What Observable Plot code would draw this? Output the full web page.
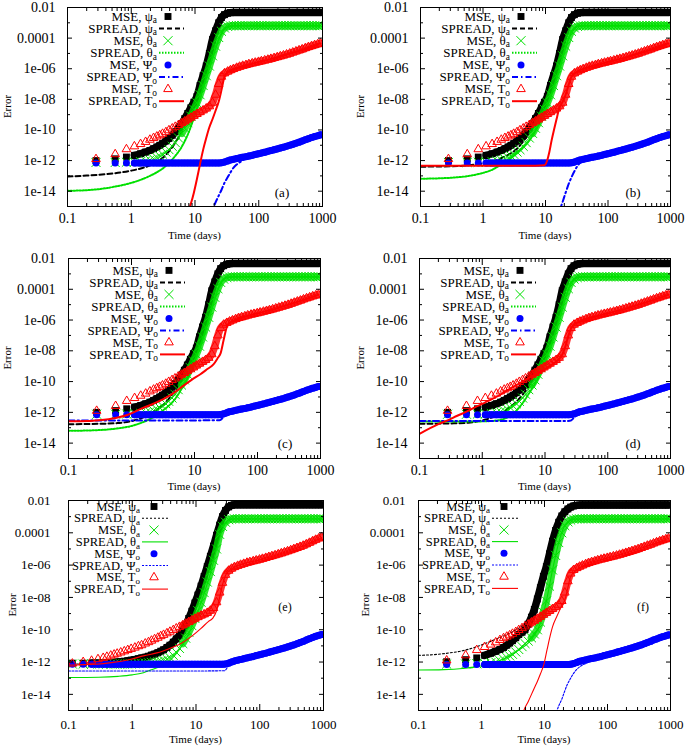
<!DOCTYPE html>
<html>
<head>
<meta charset="utf-8">
<script src="https://cdn.jsdelivr.net/npm/d3@7"></script>
<script src="https://cdn.jsdelivr.net/npm/@observablehq/plot@0.6"></script>
<style>
  html, body { margin: 0; padding: 0; background: #fff; }
  #wrap { position: relative; width: 685px; height: 746px; overflow: hidden; background: #fff; }
  #wrap svg { position: absolute; }
</style>
</head>
<body>
<div id="wrap"></div>
<script>
// ---------- axis ticks and labels ----------
const xTicks = [0.1, 1, 10, 100, 1000];
const xTickLabels = ["0.1", "1", "10", "100", "1000"];
const xMinorTicks = [0.2,0.3,0.4,0.5,0.6,0.7,0.8,0.9,2,3,4,5,6,7,8,9,20,30,40,50,60,70,80,90,200,300,400,500,600,700,800,900];
const yTicks = [1e-2, 1e-4, 1e-6, 1e-8, 1e-10, 1e-12, 1e-14];
const yTickLabels = ["0.01", "0.0001", "1e-06", "1e-08", "1e-10", "1e-12", "1e-14"];
const yMinorTicks = [1e-3, 1e-5, 1e-7, 1e-9, 1e-11, 1e-13];
const legendMain = ["MSE, \u03c8", "SPREAD, \u03c8", "MSE, \u03b8", "SPREAD, \u03b8", "MSE, \u03a8", "SPREAD, \u03a8", "MSE, T", "SPREAD, T"];
const legendSub = ["a", "a", "a", "a", "o", "o", "o", "o"];
const panelLabels = ["(a)", "(b)", "(c)", "(d)", "(e)", "(f)"];

// ---------- MSE time grids ----------
const tMSE = [0.28,0.56,0.84,1.12,1.4,1.68,1.96,2.24,2.52,2.8,
  3.1,3.5,3.9,4.4,4.9,5.5,6.2,6.9,7.7,8.6,
  9.6,10.7,12,13.4,15,16.8,18.8,21,23.5,26,
  29,32.5,36,40,45,50,56,63,70,79,
  88,99,110,124,139,155,174,195,218,244,
  273,306,342,383,429,480,537,601,673,753,
  843,930];
const tE = [0.115,0.17,0.23,0.29,0.35,0.4,0.46,0.52,0.58,0.66,0.75,0.85,0.96,
  1.1,1.25,1.4,1.6,1.8,2.0,2.24,2.52,2.8,
  3.1,3.5,3.9,4.4,4.9,5.5,6.2,6.9,7.7,8.6,
  9.6,10.7,12,13.4,15,16.8,18.8,21,23.5,26,
  29,32.5,36,40,45,50,56,63,70,79,
  88,99,110,124,139,155,174,195,218,244,
  273,306,342,383,429,480,537,601,673,753,
  843,930];

// ---------- MSE values, panels (a)-(d) ----------
const msePsiA = [1.0e-12,1.3e-12,1.7e-12,2.2e-12,2.8e-12,3.6e-12,4.6e-12,6e-12,7.8e-12,1.0e-11,
  1.3e-11,1.9e-11,2.8e-11,4.5e-11,7.5e-11,1.3e-10,2.6e-10,5.5e-10,1.2e-9,2.8e-9,
  6.5e-9,1.5e-8,8e-8,3.5e-7,1.5e-6,1e-5,8e-5,3e-4,1e-3,2.2e-3,
  3.4e-3,4.2e-3,4.6e-3,4.8e-3,4.8e-3,4.8e-3,4.8e-3,4.8e-3,4.8e-3,4.8e-3,
  4.8e-3,4.8e-3,4.8e-3,4.8e-3,4.8e-3,4.8e-3,4.8e-3,4.8e-3,4.8e-3,4.8e-3,
  4.8e-3,4.8e-3,4.8e-3,4.8e-3,4.8e-3,4.8e-3,4.8e-3,4.8e-3,4.8e-3,4.8e-3,
  4.8e-3,4.8e-3];
const mseThetaA = [7.5e-13,7.5e-13,7.8e-13,8e-13,8.5e-13,9.5e-13,1.1e-12,1.3e-12,1.6e-12,2e-12,
  2.6e-12,3.6e-12,5.2e-12,8.5e-12,1.5e-11,3e-11,6e-11,1.3e-10,3e-10,8e-10,
  2.2e-9,6e-9,2e-8,8e-8,3.5e-7,1.5e-6,7e-6,3e-5,1.1e-4,2.8e-4,
  4.6e-4,5.8e-4,6.3e-4,6.5e-4,6.5e-4,6.5e-4,6.5e-4,6.5e-4,6.5e-4,6.5e-4,
  6.5e-4,6.5e-4,6.5e-4,6.5e-4,6.5e-4,6.5e-4,6.5e-4,6.5e-4,6.5e-4,6.5e-4,
  6.5e-4,6.5e-4,6.5e-4,6.5e-4,6.5e-4,6.5e-4,6.5e-4,6.5e-4,6.5e-4,6.5e-4,
  6.5e-4,6.5e-4];
const msePsiO = [7e-13,7e-13,7e-13,7e-13,7e-13,7e-13,7e-13,7e-13,7e-13,7e-13,
  7e-13,7e-13,7e-13,7e-13,7e-13,7e-13,7e-13,7e-13,7e-13,7e-13,
  7e-13,7e-13,7e-13,7e-13,7e-13,7e-13,7e-13,7e-13,7e-13,7.3e-13,
  8e-13,9.5e-13,1.1e-12,1.2e-12,1.35e-12,1.5e-12,1.65e-12,1.8e-12,2e-12,2.2e-12,
  2.5e-12,2.8e-12,3.1e-12,3.5e-12,4e-12,4.5e-12,5.1e-12,5.8e-12,6.6e-12,7.5e-12,
  8.6e-12,1e-11,1.15e-11,1.35e-11,1.6e-11,1.9e-11,2.3e-11,2.7e-11,3.2e-11,3.7e-11,
  4.2e-11,4.8e-11];
const mseTO = [1.25e-12,2.6e-12,5.5e-12,8.5e-12,1.2e-11,1.65e-11,2.3e-11,3e-11,3.7e-11,4.5e-11,
  5.6e-11,7.2e-11,9.5e-11,1.25e-10,1.6e-10,2.1e-10,2.8e-10,3.6e-10,4.8e-10,6.3e-10,
  8.3e-10,1.1e-9,1.45e-9,1.9e-9,2.5e-9,3.5e-9,6e-9,2e-8,1e-7,3e-7,
  5e-7,6.5e-7,8e-7,9.5e-7,1.15e-6,1.35e-6,1.55e-6,1.75e-6,2e-6,2.25e-6,
  2.5e-6,2.8e-6,3.1e-6,3.5e-6,3.9e-6,4.4e-6,5e-6,5.7e-6,6.5e-6,7.4e-6,
  8.5e-6,9.8e-6,1.15e-5,1.35e-5,1.6e-5,1.85e-5,2.2e-5,2.6e-5,3e-5,3.5e-5,
  4e-5,4.5e-5];

// ---------- MSE values, panel (e) ----------
const mseEPsiA = [8.5e-13,8.5e-13,8.6e-13,8.7e-13,8.8e-13,9e-13,9.2e-13,9.5e-13,1e-12,1.05e-12,1.1e-12,1.2e-12,1.3e-12,
  1.45e-12,1.6e-12,1.8e-12,2e-12,2.3e-12,2.7e-12,3.1e-12,3.8e-12,4.7e-12,
  5.8e-12,8e-12,1.1e-11,1.7e-11,2.7e-11,4.5e-11,9e-11,2e-10,5e-10,1.4e-9,
  4.5e-9,1.4e-8,5e-8,2e-7,8e-7,3.5e-6,1.5e-5,7e-5,3e-4,1e-3,
  2.4e-3,4e-3,5e-3,5.4e-3,5.4e-3,5.4e-3,5.4e-3,5.4e-3,5.4e-3,5.4e-3,
  5.4e-3,5.4e-3,5.4e-3,5.4e-3,5.4e-3,5.4e-3,5.4e-3,5.4e-3,5.4e-3,5.4e-3,
  5.4e-3,5.4e-3,5.4e-3,5.4e-3,5.4e-3,5.4e-3,5.4e-3,5.4e-3,5.4e-3,5.4e-3,
  5.4e-3,5.4e-3];
const mseEThetaA = [7.5e-13,7.5e-13,7.5e-13,7.5e-13,7.5e-13,7.5e-13,7.5e-13,7.5e-13,7.5e-13,7.5e-13,7.5e-13,7.5e-13,7.5e-13,
  7.8e-13,8e-13,8.3e-13,8.6e-13,9e-13,9.5e-13,1e-12,1.07e-12,1.15e-12,
  1.3e-12,1.5e-12,1.9e-12,2.6e-12,4e-12,7e-12,1.4e-11,3e-11,7e-11,1.8e-10,
  5e-10,1.5e-9,5e-9,2e-8,9e-8,4e-7,2e-6,1e-5,8e-5,2.5e-4,
  4.5e-4,6.5e-4,7.2e-4,7.4e-4,7.4e-4,7.4e-4,7.4e-4,7.4e-4,7.4e-4,7.4e-4,
  7.4e-4,7.4e-4,7.4e-4,7.4e-4,7.4e-4,7.4e-4,7.4e-4,7.4e-4,7.4e-4,7.4e-4,
  7.4e-4,7.4e-4,7.4e-4,7.4e-4,7.4e-4,7.4e-4,7.4e-4,7.4e-4,7.4e-4,7.4e-4,
  7.4e-4,7.4e-4];
const mseEPsiO = [7.4e-13,7.4e-13,7.4e-13,7.4e-13,7.4e-13,7.4e-13,7.4e-13,7.4e-13,7.4e-13,7.4e-13,7.4e-13,7.4e-13,7.4e-13,
  7.4e-13,7.4e-13,7.4e-13,7.4e-13,7.4e-13,7.4e-13,7.4e-13,7.4e-13,7.4e-13,
  7.4e-13,7.4e-13,7.4e-13,7.4e-13,7.4e-13,7.4e-13,7.4e-13,7.4e-13,7.4e-13,7.4e-13,
  7.4e-13,7.4e-13,7.4e-13,7.4e-13,7.4e-13,7.4e-13,7.4e-13,7.4e-13,7.4e-13,7.4e-13,
  7.6e-13,8.5e-13,1e-12,1.15e-12,1.3e-12,1.45e-12,1.6e-12,1.8e-12,2e-12,2.2e-12,
  2.5e-12,2.8e-12,3.1e-12,3.5e-12,4e-12,4.5e-12,5.1e-12,5.8e-12,6.6e-12,7.5e-12,
  8.6e-12,1e-11,1.15e-11,1.35e-11,1.6e-11,1.9e-11,2.3e-11,2.8e-11,3.3e-11,3.9e-11,
  4.5e-11,5e-11];
const mseETO = [8e-13,1e-12,1.2e-12,1.5e-12,1.8e-12,2.1e-12,2.5e-12,2.9e-12,3.3e-12,3.9e-12,4.6e-12,5.5e-12,6.5e-12,
  7.8e-12,9.5e-12,1.1e-11,1.4e-11,1.7e-11,2.1e-11,2.6e-11,3.2e-11,4e-11,
  4.8e-11,6e-11,7.5e-11,9.5e-11,1.2e-10,1.5e-10,1.9e-10,2.4e-10,3e-10,3.8e-10,
  4.8e-10,6e-10,7.5e-10,9e-10,1.1e-9,1.5e-9,2.2e-9,5e-9,2e-8,8e-8,
  2.5e-7,4.5e-7,6e-7,7.5e-7,9e-7,1.05e-6,1.2e-6,1.4e-6,1.55e-6,1.75e-6,
  1.95e-6,2.2e-6,2.45e-6,2.8e-6,3.2e-6,3.6e-6,4.1e-6,4.7e-6,5.4e-6,6.2e-6,
  7.2e-6,8.4e-6,9.8e-6,1.15e-5,1.35e-5,1.6e-5,1.95e-5,2.4e-5,3e-5,3.7e-5,
  4.5e-5,5.3e-5];

// ---------- MSE values, panel (f) (psi_o and T_o as in (a)-(d)) ----------
const mseFPsiA = [1.05e-12,1.4e-12,1.8e-12,2.6e-12,3.5e-12,4.6e-12,6e-12,8e-12,1.1e-11,1.5e-11,
  2.1e-11,3.2e-11,5e-11,7e-11,1e-10,2.2e-10,6e-10,1.8e-9,8e-9,4e-8,
  2e-7,8e-7,5e-6,3e-5,1.4e-4,4.5e-4,1.1e-3,2e-3,3e-3,3.9e-3,
  4.6e-3,5e-3,5.2e-3,5.3e-3,5.3e-3,5.3e-3,5.3e-3,5.3e-3,5.3e-3,5.3e-3,
  5.3e-3,5.3e-3,5.3e-3,5.3e-3,5.3e-3,5.3e-3,5.3e-3,5.3e-3,5.3e-3,5.3e-3,
  5.3e-3,5.3e-3,5.3e-3,5.3e-3,5.3e-3,5.3e-3,5.3e-3,5.3e-3,5.3e-3,5.3e-3,
  5.3e-3,5.3e-3];
const mseFThetaA = [7.5e-13,7.5e-13,7.8e-13,8e-13,9e-13,1e-12,1.2e-12,1.5e-12,1.9e-12,2.4e-12,
  3e-12,4.2e-12,6e-12,9e-12,1.4e-11,2e-11,3.2e-11,5.5e-11,1e-10,3e-10,
  1.2e-9,6e-9,5e-8,5e-7,4e-6,2.5e-5,1e-4,2.8e-4,4.8e-4,6.2e-4,
  7e-4,7.3e-4,7.4e-4,7.4e-4,7.4e-4,7.4e-4,7.4e-4,7.4e-4,7.4e-4,7.4e-4,
  7.4e-4,7.4e-4,7.4e-4,7.4e-4,7.4e-4,7.4e-4,7.4e-4,7.4e-4,7.4e-4,7.4e-4,
  7.4e-4,7.4e-4,7.4e-4,7.4e-4,7.4e-4,7.4e-4,7.4e-4,7.4e-4,7.4e-4,7.4e-4,
  7.4e-4,7.4e-4];

// ---------- SPREAD curves: [time, value] ----------
const sprA_psiA = [[0.1,9e-14],[0.2,1.05e-13],[0.4,1.3e-13],[0.7,1.7e-13],[1,2.2e-13],[1.5,3.3e-13],[2,5e-13],[2.5,8.5e-13],[3.1,1.5e-12],[3.9,4e-12],[4.9,1.5e-11],[6.2,8e-11],[7.7,6e-10],[9.6,5e-9],[12,5e-8],[15,8e-7],[18.8,1.5e-5],[23.5,3.5e-4],[29,2.8e-3],[36,4.6e-3],[45,4.8e-3],[930,4.8e-3]];
const sprA_thetaA = [[0.1,1.05e-14],[0.28,1.3e-14],[0.56,2e-14],[0.93,3.2e-14],[1.4,5.5e-14],[1.86,9e-14],[2.5,1.7e-13],[3.1,3e-13],[3.9,7e-13],[4.9,2e-12],[6.2,8e-12],[7.7,5e-11],[9.6,6e-10],[12,1.2e-8],[15,2.5e-7],[18.8,5e-6],[23.5,8e-5],[29,4e-4],[36,6e-4],[45,6.4e-4],[930,6.4e-4]];
const sprA_psiO = [[17,2e-16],[19.7,1e-15],[23.5,5e-15],[26,1.2e-14],[29,3.5e-14],[32.5,8e-14],[36,1.7e-13],[40,3.3e-13],[45,5.5e-13],[52,8.5e-13],[63,1.6e-12],[99,2.7e-12],[195,5.6e-12],[383,1.3e-11],[930,4.7e-11]];
const sprA_TO = [[7.5,3e-16],[8.6,1.5e-15],[9.6,8e-15],[10.7,6e-14],[12,6e-13],[13.4,5e-12],[15,3e-11],[16.8,1.5e-10],[18.8,5e-10],[21,1.8e-9],[23.5,7e-9],[26,4e-8],[29,3e-7],[32.5,6e-7],[40,9e-7],[63,1.7e-6],[99,2.7e-6],[195,5.5e-6],[383,1.3e-5],[930,4.5e-5]];

const sprB_psiA = [[0.1,4e-13],[0.3,4.2e-13],[0.6,5e-13],[1,6.5e-13],[1.5,9e-13],[2,1.5e-12],[2.8,3e-12],[3.5,6e-12],[4.4,1.8e-11],[5.5,6e-11],[6.9,3e-10],[8.6,2e-9],[10.7,1.2e-8],[15,8e-7],[21,9e-5],[29,2.8e-3],[36,4.6e-3],[45,4.8e-3],[930,4.8e-3]];
const sprB_thetaA = [[0.1,6.5e-14],[0.3,7.5e-14],[0.6,1e-13],[0.93,1.45e-13],[1.4,2.5e-13],[1.72,4e-13],[2.2,7e-13],[2.8,1.4e-12],[3.5,3e-12],[4.4,7e-12],[5.5,2e-11],[6.9,9e-11],[8.6,5e-10],[10.7,4e-9],[13.4,5e-8],[16.8,1e-6],[21,2.5e-5],[26,2.5e-4],[32.5,5.8e-4],[40,6.4e-4],[930,6.4e-4]];
const sprB_psiO = [[16,3e-16],[17.7,1e-15],[18.8,2e-15],[21,8e-15],[23.5,3e-14],[26,8e-14],[29,2e-13],[32.5,4.5e-13],[36.8,8e-13],[40,1.1e-12],[50,1.4e-12],[99,2.7e-12],[195,5.6e-12],[383,1.3e-11],[930,4.7e-11]];
const sprB_TO = [[0.1,4.6e-13],[1,4.6e-13],[5,4.6e-13],[9.6,5e-13],[10.7,1.1e-12],[11.5,3.5e-12],[12.5,2e-11],[13.8,1.2e-10],[15,5e-10],[16.6,2.5e-9],[18.8,7e-9],[21,2e-8],[23.5,9e-8],[26,3e-7],[32.5,6.5e-7],[40,9.5e-7],[63,1.7e-6],[99,2.7e-6],[195,5.5e-6],[383,1.3e-5],[930,4.5e-5]];

const sprC_psiA = [[0.1,1.7e-13],[0.3,1.8e-13],[0.6,2e-13],[1,2.7e-13],[1.4,4e-13],[2,8e-13],[2.8,2e-12],[3.5,4.5e-12],[4.4,1.4e-11],[5.5,5e-11],[6.9,2.5e-10],[8.6,2e-9],[10.7,1.2e-8],[15,8e-7],[21,9e-5],[29,2.8e-3],[36,4.6e-3],[45,4.8e-3],[930,4.8e-3]];
const sprC_thetaA = [[0.1,6.3e-14],[0.3,7e-14],[0.59,9e-14],[1,1.3e-13],[1.39,2e-13],[2,3.8e-13],[2.55,7e-13],[3.2,1.4e-12],[4.1,3.2e-12],[5,8e-12],[5.9,2.3e-11],[6.9,7e-11],[8.6,4e-10],[10.7,4e-9],[13.4,5e-8],[16.8,1e-6],[21,2.5e-5],[26,2.5e-4],[32.5,5.8e-4],[40,6.4e-4],[930,6.4e-4]];
const sprC_psiO = [[0.1,3e-13],[1,3e-13],[10,3e-13],[25,3.1e-13],[29,5e-13],[32.5,8e-13],[36,1.05e-12],[45,1.3e-12],[63,1.75e-12],[99,2.7e-12],[195,5.6e-12],[383,1.3e-11],[930,4.7e-11]];
const sprC_TO = [[0.1,2.6e-13],[0.2,2.7e-13],[0.28,3e-13],[0.56,4.3e-13],[0.92,7.5e-13],[1.4,1.7e-12],[2,3e-12],[2.8,5.5e-12],[3.7,1e-11],[5,2.2e-11],[6.7,5.5e-11],[9,1.3e-10],[12.4,3e-10],[16,6.5e-10],[20,1.3e-9],[23.5,3.5e-9],[26,7e-9],[29,5e-8],[32.5,3.5e-7],[36,6.5e-7],[45,1.05e-6],[63,1.7e-6],[99,2.7e-6],[195,5.5e-6],[383,1.3e-5],[930,4.5e-5]];

const sprD_psiA = [[0.1,1.8e-13],[0.3,1.9e-13],[0.6,2.1e-13],[1,3e-13],[1.4,4.5e-13],[2,9e-13],[2.8,2.2e-12],[3.5,5e-12],[4.4,1.4e-11],[5.5,5e-11],[6.9,2.5e-10],[8.6,2e-9],[10.7,1.2e-8],[15,8e-7],[21,9e-5],[29,2.8e-3],[36,4.6e-3],[45,4.8e-3],[930,4.8e-3]];
const sprD_thetaA = [[0.1,2.5e-13],[0.5,2.5e-13],[1,2.6e-13],[1.5,2.8e-13],[2,3.3e-13],[2.8,6e-13],[3.5,1.3e-12],[4.4,4e-12],[5.5,1.6e-11],[6.9,7e-11],[8.6,4e-10],[10.7,4e-9],[13.4,5e-8],[16.8,1e-6],[21,2.5e-5],[26,2.5e-4],[32.5,5.8e-4],[40,6.4e-4],[930,6.4e-4]];
const sprD_psiO = [[0.1,2.7e-13],[1,2.7e-13],[10,2.7e-13],[25,2.8e-13],[29,4.5e-13],[32.5,7.5e-13],[36,1e-12],[45,1.3e-12],[63,1.75e-12],[99,2.7e-12],[195,5.6e-12],[383,1.3e-11],[930,4.7e-11]];
const sprD_TO = [[0.1,4e-14],[0.2,1.7e-13],[0.28,3e-13],[0.4,6e-13],[0.56,1.1e-12],[0.83,2.5e-12],[1.12,4.5e-12],[1.4,7e-12],[2,1.5e-11],[2.8,3.5e-11],[4,8e-11],[5.2,1.5e-10],[6.9,2.8e-10],[9.6,6e-10],[13.4,1.4e-9],[16.8,3e-9],[18.8,5.5e-9],[21,1.8e-8],[23.5,9e-8],[26,2.8e-7],[29,5e-7],[36,8e-7],[63,1.7e-6],[99,2.7e-6],[195,5.5e-6],[383,1.3e-5],[930,4.5e-5]];

const sprE_psiA = [[0.1,7.5e-13],[0.3,8e-13],[0.6,9e-13],[1,1.2e-12],[1.5,1.7e-12],[2,2.4e-12],[3,4.5e-12],[4.4,1.2e-11],[5.5,3e-11],[6.9,1.4e-10],[8.6,1.1e-9],[10.7,1.1e-8],[13.4,1.8e-7],[16.8,3e-6],[21,6e-5],[26,9e-4],[32.5,3.8e-3],[40,5.3e-3],[930,5.3e-3]];
const sprE_thetaA = [[0.1,1.1e-13],[0.3,1.15e-13],[0.6,1.3e-13],[1,1.6e-13],[1.5,2.2e-13],[2,3.3e-13],[2.8,5.5e-13],[3.5,8.5e-13],[4.4,2e-12],[5.5,6e-12],[6.9,2.5e-11],[8.6,1.6e-10],[10.7,1.4e-9],[13.4,1.8e-8],[16.8,3e-7],[21,9e-6],[26,1.6e-4],[32.5,6.3e-4],[40,7.3e-4],[930,7.3e-4]];
const sprE_psiO = [[0.1,2.8e-13],[10,2.8e-13],[28,2.9e-13],[32.5,6e-13],[36,9e-13],[40,1.1e-12],[50,1.4e-12],[99,2.7e-12],[195,5.6e-12],[383,1.3e-11],[930,4.8e-11]];
const sprE_TO = [[0.1,6.5e-13],[0.27,7.3e-13],[0.5,9.5e-13],[0.88,1.4e-12],[1.5,2.4e-12],[2.9,4.5e-12],[4.4,8.5e-12],[5.9,1.45e-11],[8.6,4e-11],[12,1.2e-10],[15.6,3.2e-10],[18.2,5e-10],[21,1.5e-9],[23.5,1e-8],[26,6e-8],[29,2.3e-7],[32.5,4.3e-7],[40,7.4e-7],[63,1.4e-6],[99,2.1e-6],[195,4.6e-6],[383,1.1e-5],[930,5e-5]];

const sprF_psiA = [[0.1,2.6e-12],[0.2,3e-12],[0.3,3.6e-12],[0.5,5e-12],[0.85,9e-12],[1.2,1.5e-11],[1.77,2.8e-11],[2.5,5e-11],[3.7,1.1e-10],[4.9,2.5e-10],[6.2,7e-10],[7.7,8e-9],[9.6,2e-7],[12,5e-6],[15,1.4e-4],[18.8,1.1e-3],[23.5,3e-3],[29,4.6e-3],[36,5.2e-3],[930,5.2e-3]];
const sprF_thetaA = [[0.1,3.2e-13],[0.25,3.4e-13],[0.5,4e-13],[0.85,5.2e-13],[1.4,8.5e-13],[2,1.3e-12],[2.8,2.4e-12],[3.9,5.5e-12],[5.5,1.5e-11],[6.9,4.5e-11],[8.6,2.5e-10],[10.7,6e-9],[13.4,5e-7],[16.8,2.5e-5],[21,2.8e-4],[29,7e-4],[930,7.3e-4]];
const sprF_psiO = [[14.5,3e-16],[15.8,1e-15],[18.8,5e-15],[22.9,3.9e-14],[26,1e-13],[29,2e-13],[32.5,3.5e-13],[36,5e-13],[40,6.5e-13],[47.6,9e-13],[56,1.5e-12],[99,2.7e-12],[195,5.6e-12],[383,1.3e-11],[930,4.7e-11]];
const sprF_TO = [[4.4,4e-16],[4.7,1e-15],[5.5,3.5e-15],[6.9,2.5e-14],[7.7,6.3e-14],[8.6,1.8e-13],[9.8,7.5e-13],[11,6e-12],[12.4,4.8e-11],[13.4,1.5e-10],[15.8,7e-10],[18.8,3e-9],[21,7e-9],[23.5,4e-8],[26,2e-7],[32.5,5e-7],[45,1.1e-6],[63,1.7e-6],[99,2.7e-6],[195,5.5e-6],[383,1.3e-5],[930,4.5e-5]];

// ---------- drawing ----------
const FONT = "'Liberation Serif', 'Times New Roman', serif";
const COLORS = ["#000000", "#00e000", "#0000ff", "#ff0000"];

const panels = [
  {left: 0,   top: 0,   w: 340, h: 246, L: 67, R: 322, T: 7,  B: 206, big: true,  tm: tMSE, bandFrom: [1.1, 6, 1.1, 6], m: [msePsiA, mseThetaA, msePsiO, mseTO], s: [sprA_psiA, sprA_thetaA, sprA_psiO, sprA_TO], errX: 7,  timeY: 29, lab: [-40, null, -13], legY0: 9.5, legDy: 12.1, yPad: 17, xPad: 13},
  {left: 340, top: 0,   w: 345, h: 246, L: 80, R: 330, T: 7,  B: 206, big: true,  tm: tMSE, bandFrom: [1.1, 6, 1.1, 6], m: [msePsiA, mseThetaA, msePsiO, mseTO], s: [sprB_psiA, sprB_thetaA, sprB_psiO, sprB_TO], errX: 20, timeY: 29, lab: [-37, null, -13], legY0: 9.5, legDy: 12.1, yPad: 17, xPad: 13},
  {left: 0,   top: 240, w: 340, h: 252, L: 68, R: 320, T: 18, B: 218, big: true,  tm: tMSE, bandFrom: [1.1, 6, 1.1, 6], m: [msePsiA, mseThetaA, msePsiO, mseTO], s: [sprC_psiA, sprC_thetaA, sprC_psiO, sprC_TO], errX: 7,  timeY: 28, lab: [-35, null, -14], legY0: 12.4, legDy: 12.0, yPad: 18, xPad: 13},
  {left: 340, top: 240, w: 345, h: 252, L: 79, R: 330, T: 18, B: 218, big: true,  tm: tMSE, bandFrom: [1.1, 6, 1.1, 6], m: [msePsiA, mseThetaA, msePsiO, mseTO], s: [sprD_psiA, sprD_thetaA, sprD_psiO, sprD_TO], errX: 20, timeY: 28, lab: [-37, null, -14], legY0: 12.4, legDy: 12.0, yPad: 17, xPad: 13},
  {left: 0,   top: 480, w: 340, h: 266, L: 68, R: 323, T: 20, B: 230, big: false, tm: tE,   bandFrom: [0.2, 6, 0.2, 6], m: [mseEPsiA, mseEThetaA, mseEPsiO, mseETO], s: [sprE_psiA, sprE_thetaA, sprE_psiO, sprE_TO], errX: 12, timeY: 29.5, lab: [-38, 107, null], legY0: 6.5, legDy: 11.8, yPad: 23, xPad: 15},
  {left: 340, top: 480, w: 345, h: 266, L: 78, R: 330, T: 20, B: 230, big: false, tm: tMSE, bandFrom: [1.1, 6, 1.1, 6], m: [mseFPsiA, mseFThetaA, msePsiO, mseTO], s: [sprF_psiA, sprF_thetaA, sprF_psiO, sprF_TO], errX: 25, timeY: 29.5, lab: [-27, 107, null], legY0: 6.5, legDy: 11.7, yPad: 18, xPad: 15}
];

function axisMarks(p, fs) {
  const none = () => "";
  return [
    Plot.axisX(xTicks, {anchor: "bottom", tickSize: -6, tickPadding: p.xPad, tickFormat: d => xTickLabels[xTicks.indexOf(d)], fontSize: fs, fontFamily: FONT, label: null}),
    Plot.axisX(xTicks, {anchor: "top", tickSize: -6, tickFormat: none, label: null}),
    Plot.axisX(xMinorTicks, {anchor: "bottom", tickSize: -3, tickFormat: none, label: null}),
    Plot.axisX(xMinorTicks, {anchor: "top", tickSize: -3, tickFormat: none, label: null}),
    Plot.axisY(yTicks, {anchor: "left", tickSize: -5, tickPadding: p.yPad, tickFormat: d => yTickLabels[yTicks.indexOf(d)], fontSize: fs, fontFamily: FONT, label: null}),
    Plot.axisY(yTicks, {anchor: "right", tickSize: -5, tickFormat: none, label: null}),
    Plot.axisY(yMinorTicks, {anchor: "left", tickSize: -3, tickFormat: none, label: null}),
    Plot.axisY(yMinorTicks, {anchor: "right", tickSize: -3, tickFormat: none, label: null})
  ];
}

const wrap = document.getElementById("wrap");

panels.forEach((p, idx) => {
  const rows = (ts, vs) => ts.map((t, i) => ({t, v: vs[i]}));
  const pairs = arr => arr.map(([t, v]) => ({t, v}));
  const lw = p.big ? 2 : 1.1;
  const dashes = p.big ? ["5,3", "1.5,1.5", "6,3,1.5,3", null] : ["2,2", null, "2,1.5", null];
  const fs = p.big ? 14 : 13;
  const legFont = p.big ? 13 : 12.5;
  const common = {x: "t", y: "v", clip: true};
  const lineOpt = (k) => {
    const o = {...common, stroke: COLORS[k], strokeWidth: lw, curve: "monotone-x"};
    if (dashes[k]) o.strokeDasharray = dashes[k];
    return o;
  };
  const dotOpts = [
    {...common, symbol: "square", fill: COLORS[0], r: 3.9},
    {...common, symbol: "times", stroke: COLORS[1], fill: "none", strokeWidth: 1, r: 4.2},
    {...common, symbol: "circle", fill: COLORS[2], r: 3.5},
    {...common, symbol: "triangle", stroke: COLORS[3], fill: "none", strokeWidth: 1, r: 3.2}
  ];
  // dense-marker bands (the reference draws thousands of overlapping markers)
  const bandW = [7.5, 7.5, 7, 7.5];
  const bandOp = [1, 0.8, 1, 0.8];
  const marks = [];
  for (let k = 0; k < 4; k++) {
    const data = rows(p.tm, p.m[k]);
    marks.push(Plot.line(data.filter(d => d.t >= p.bandFrom[k]), {...common, stroke: COLORS[k], strokeWidth: bandW[k], strokeOpacity: bandOp[k], curve: "monotone-x", strokeLinejoin: "round"}));
    marks.push(Plot.dot(data, dotOpts[k]));
    marks.push(Plot.line(pairs(p.s[k]), lineOpt(k)));
  }
  marks.push(Plot.frame({stroke: "black", strokeWidth: 1}));
  marks.push(...axisMarks(p, fs));

  const svg = Plot.plot({
    width: p.w, height: p.h,
    marginLeft: p.L, marginRight: p.w - p.R, marginTop: p.T, marginBottom: p.h - p.B,
    style: {background: "transparent", fontFamily: FONT, overflow: "visible", color: "black"},
    x: {type: "log", domain: [0.1, 1000]},
    y: {type: "log", domain: [1e-15, 1e-2]},
    marks
  });
  svg.style.left = p.left + "px";
  svg.style.top = p.top + "px";
  wrap.appendChild(svg);

  const S = d3.select(svg);
  // legend
  const g = S.append("g").attr("font-family", FONT).attr("font-size", legFont).attr("fill", "black");
  const textEnd = p.big ? 90 : 72;
  const lineX0 = p.big ? 92 : 74, lineX1 = p.big ? 117 : 100, markX = p.big ? 101 : 86;
  const symTypes = [d3.symbolSquare, d3.symbolTimes, d3.symbolCircle, d3.symbolTriangle];
  const symR = [3.9, 4.2, 3.5, 3.2];
  legendMain.forEach((txt, i) => {
    const y = p.T + p.legY0 + i * p.legDy;
    const t = g.append("text").attr("x", p.L + textEnd).attr("y", y).attr("dy", "0.33em").attr("text-anchor", "end");
    t.append("tspan").text(txt);
    t.append("tspan").attr("dy", 2.5).attr("font-size", legFont * 0.72).text(legendSub[i]);
    const k = Math.floor(i / 2);
    if (i % 2 === 0) {
      const path = d3.symbol().type(symTypes[k]).size(Math.PI * symR[k] * symR[k])();
      const el = g.append("path").attr("d", path).attr("transform", `translate(${p.L + markX},${y})`);
      if (k === 0 || k === 2) el.attr("fill", COLORS[k]);
      else el.attr("fill", "none").attr("stroke", COLORS[k]).attr("stroke-width", 1);
    } else {
      const ln = g.append("line").attr("x1", p.L + lineX0).attr("x2", p.L + lineX1).attr("y1", y).attr("y2", y)
        .attr("stroke", COLORS[k]).attr("stroke-width", lw);
      if (dashes[k]) ln.attr("stroke-dasharray", dashes[k]);
    }
  });
  // axis titles
  S.append("text").attr("x", (p.L + p.R) / 2).attr("y", p.B + p.timeY).attr("dy", "0.33em")
    .attr("text-anchor", "middle").attr("font-family", FONT).attr("font-size", 11).text("Time (days)");
  S.append("text").attr("transform", `translate(${p.errX},${(p.T + p.B) / 2}) rotate(-90)`).attr("dy", "0.33em")
    .attr("text-anchor", "middle").attr("font-family", FONT).attr("font-size", 11).text("Error");
  // panel label
  const ly = p.lab[2] !== null ? p.B + p.lab[2] : p.T + p.lab[1];
  S.append("text").attr("x", p.R + p.lab[0]).attr("y", ly).attr("dy", "0.33em").attr("text-anchor", "middle")
    .attr("font-family", FONT).attr("font-size", p.big ? 13 : 12).text(panelLabels[idx]);
});
</script>
</body>
</html>
